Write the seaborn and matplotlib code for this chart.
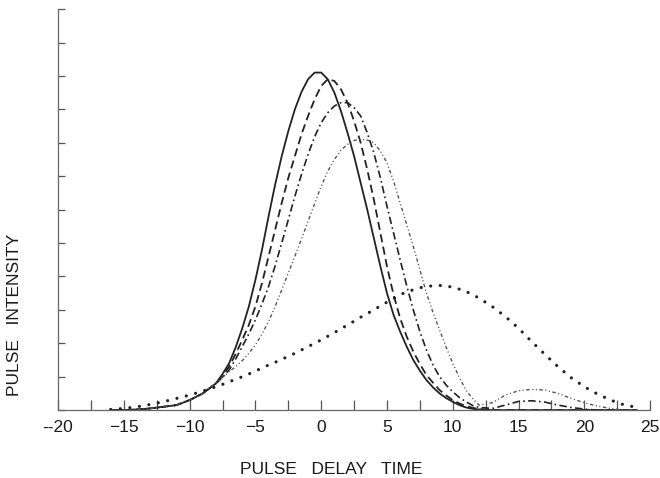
import numpy as np
import matplotlib
matplotlib.use("Agg")
import matplotlib.pyplot as plt
import seaborn as sns

# pulse delay time (shared x for every curve), finer steps where curves bend
delay = ([-16, -15, -14, -13, -12, -11, -10, -9, -8]
         + [-7.5, -7, -6.5, -6, -5.5, -5, -4.5, -4, -3.5, -3, -2.5, -2, -1.5, -1, -0.5,
            0, 0.5, 1, 1.5, 2, 2.5, 3, 3.5, 4, 4.5, 5, 5.5, 6, 6.5, 7, 7.5, 8, 8.5, 9,
            9.5, 10, 10.5, 11, 11.5, 12]
         + [13, 14, 15, 16, 17, 18, 19, 20, 21, 22, 23, 24])

# intensities
solid = ([0, 0, 0.02, 0.05, 0.1, 0.15, 0.3, 0.5, 0.8]
         + [1.08, 1.4, 1.88, 2.45, 3.1, 3.9, 4.8, 5.8, 6.75, 7.6, 8.35, 9.0, 9.52, 9.9, 10.1,
            10.1, 9.9, 9.5, 8.95, 8.3, 7.6, 6.8, 6.0, 5.15, 4.3, 3.5, 2.85, 2.35, 1.9, 1.5,
            1.18, 0.9, 0.68, 0.5, 0.36, 0.25, 0.15, 0.08, 0.04, 0.02]
         + [0, 0, 0, 0, 0, 0, 0, 0, 0, 0, 0, 0])
dashed = ([0, 0, 0.02, 0.05, 0.1, 0.15, 0.3, 0.5, 0.8]
          + [1.02, 1.3, 1.68, 2.1, 2.55, 3.1, 3.8, 4.6, 5.4, 6.2, 6.95, 7.6, 8.25, 8.8, 9.3,
             9.7, 9.9, 9.85, 9.6, 9.2, 8.65, 8.0, 7.2, 6.3, 5.3, 4.3, 3.45, 2.75, 2.2, 1.75,
             1.38, 1.05, 0.82, 0.6, 0.44, 0.3, 0.2, 0.12, 0.07, 0.03]
          + [0, 0, 0, 0, 0, 0, 0, 0, 0, 0, 0, 0])
dashdot = ([0, 0, 0.02, 0.05, 0.1, 0.15, 0.3, 0.5, 0.8]
           + [0.98, 1.2, 1.53, 1.9, 2.28, 2.7, 3.18, 3.7, 4.32, 5.0, 5.7, 6.4, 7.05, 7.65, 8.18,
              8.6, 8.9, 9.1, 9.2, 9.2, 9.05, 8.8, 8.3, 7.7, 6.95, 6.1, 5.3, 4.5, 3.72, 3.0,
              2.35, 1.8, 1.35, 1.0, 0.75, 0.55, 0.38, 0.25, 0.14, 0.08]
           + [0.05, 0.15, 0.26, 0.28, 0.24, 0.15, 0.08, 0.03, 0, 0, 0, 0])
dashdotdot = ([0, 0, 0.02, 0.05, 0.1, 0.15, 0.3, 0.5, 0.8]
              + [0.98, 1.15, 1.3, 1.48, 1.7, 1.95, 2.28, 2.65, 3.1, 3.6, 4.1, 4.6, 5.12, 5.65,
                 6.18, 6.7, 7.15, 7.5, 7.78, 7.95, 8.07, 8.1, 8.08, 8.0, 7.75, 7.4, 6.85, 6.2,
                 5.55, 4.9, 4.2, 3.5, 2.92, 2.4, 1.88, 1.4, 0.98, 0.6, 0.35, 0.15]
              + [0.22, 0.45, 0.58, 0.62, 0.6, 0.5, 0.35, 0.22, 0.12, 0.05, 0, 0])
dotted = ([0.02, 0.05, 0.1, 0.17, 0.25, 0.35, 0.45, 0.57, 0.7]
          + [0.77, 0.85, 0.92, 1.0, 1.08, 1.17, 1.26, 1.35, 1.43, 1.52, 1.61, 1.7, 1.8, 1.9,
             2.0, 2.1, 2.21, 2.32, 2.43, 2.55, 2.66, 2.78, 2.89, 3.0, 3.12, 3.23, 3.34, 3.45,
             3.54, 3.6, 3.66, 3.7, 3.72, 3.73, 3.71, 3.68, 3.62, 3.55, 3.46, 3.35]
          + [3.1, 2.8, 2.45, 2.05, 1.67, 1.3, 0.97, 0.7, 0.48, 0.3, 0.16, 0.08])

xtick_vals = [-20, -15, -10, -5, 0, 5, 10, 15, 20, 25]
xtick_text = ["--20", "\u221215", "\u221210", "\u22125", "0", "5", "10", "15", "20", "25"]

sns.set_style("ticks")
plt.rcParams["font.family"] = ["Liberation Sans", "DejaVu Sans"]

fig = plt.figure(figsize=(6.6, 4.78), dpi=100)
ax = fig.add_axes([0.088, 0.142, 0.897, 0.839])

ink = "#222222"
sns.lineplot(x=delay, y=solid, ax=ax, color=ink, lw=1.3, linestyle="-")
sns.lineplot(x=delay, y=dashed, ax=ax, color=ink, lw=1.3, linestyle=(0, (4.5, 2.5)))
sns.lineplot(x=delay, y=dashdot, ax=ax, color=ink, lw=1.2, linestyle=(0, (4.5, 2, 1, 2)))
sns.lineplot(x=delay, y=dashdotdot, ax=ax, color="#555555", lw=1.0,
             linestyle=(0, (2.5, 1.8, 0.8, 1.8, 0.8, 1.8)))
sns.lineplot(x=delay, y=dotted, ax=ax, color=ink, lw=2.3, linestyle=(0, (0.01, 3.0)),
             dash_capstyle="round")

ax.set_xlim(-20, 25)
ax.set_ylim(0, 12)
ax.set_xticks(xtick_vals)
ax.set_xticklabels(xtick_text, fontsize=12.5, color="#1a1a1a")
ax.set_xticks(np.arange(-17.5, 25, 5), minor=True)
ax.set_yticks(range(0, 13))
ax.set_yticklabels([])
ax.tick_params(axis="x", which="both", direction="in", length=7, width=0.9,
               color="#555555", pad=7)
ax.tick_params(axis="y", direction="in", length=5, width=0.9, color="#555555")

sns.despine(ax=ax)
for side in ["left", "bottom"]:
    ax.spines[side].set_color("#666666")
    ax.spines[side].set_linewidth(0.9)

ax.set_xlabel("PULSE   DELAY   TIME", fontsize=12.5, color="#1a1a1a")
ax.xaxis.set_label_coords(0.461, -0.13)
ax.set_ylabel("PULSE   INTENSITY", fontsize=12.5, color="#1a1a1a")
ax.yaxis.set_label_coords(-0.061, 0.237)

fig.savefig("out.png", dpi=100)
